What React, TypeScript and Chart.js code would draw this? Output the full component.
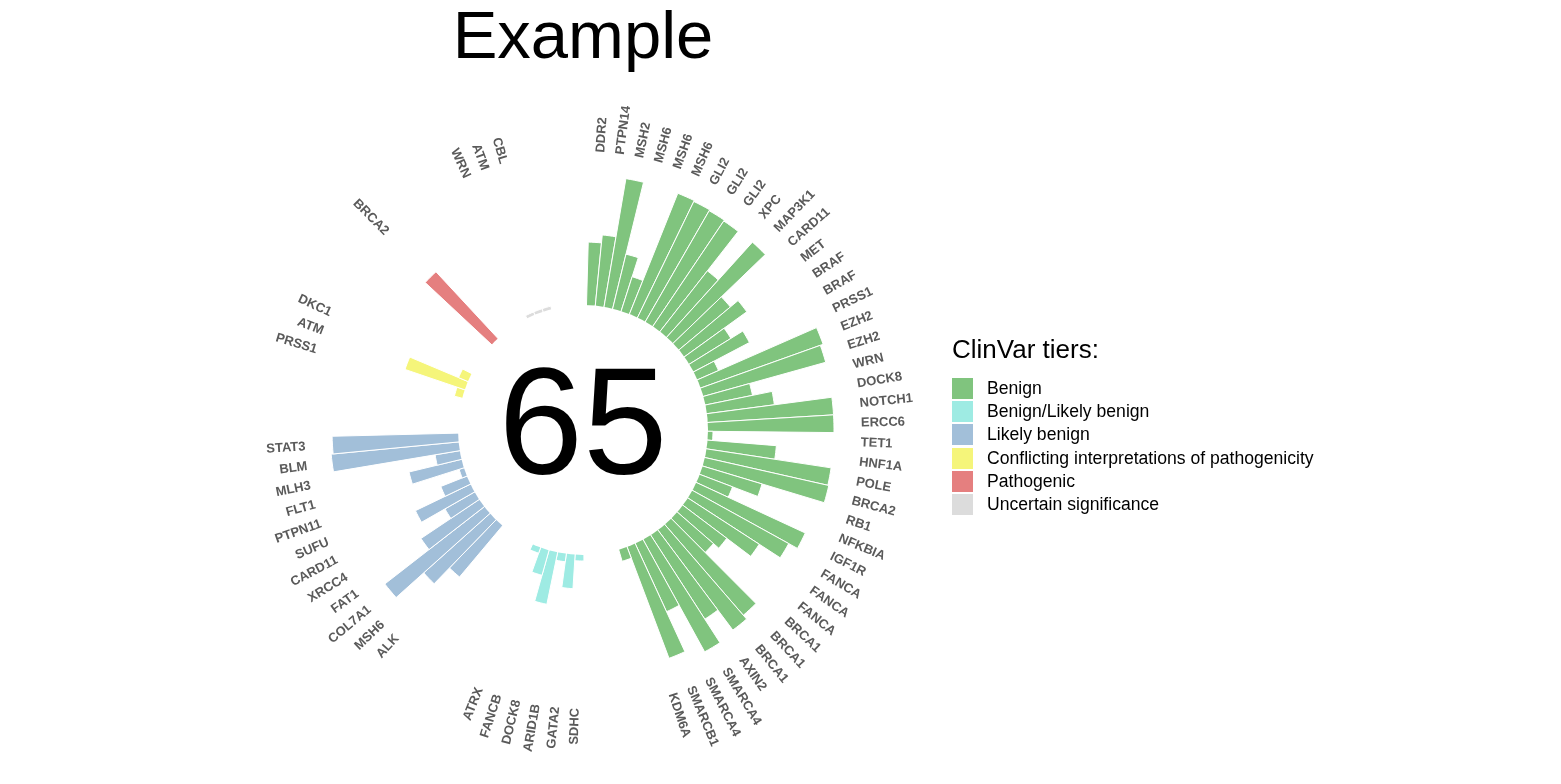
import { Chart, registerables, type Plugin } from "chart.js";
import { useEffect, useRef } from "react";

Chart.register(...registerables);

// bar heights per group, clockwise from the top
const benignGenes = ["DDR2", "PTPN14", "MSH2", "MSH6", "MSH6", "MSH6", "GLI2", "GLI2", "GLI2", "XPC", "MAP3K1", "CARD11", "MET", "BRAF", "BRAF", "PRSS1", "EZH2", "EZH2", "WRN", "DOCK8", "NOTCH1", "ERCC6", "TET1", "HNF1A", "POLE", "BRCA2", "RB1", "NFKBIA", "IGF1R", "FANCA", "FANCA", "FANCA", "BRCA1", "BRCA1", "BRCA1", "AXIN2", "SMARCA4", "SMARCA4", "SMARCB1", "KDM6A"];
const benignValues = [63, 71, 130, 56, 36, 130, 129, 128, 127, 77, 128, 67, 77, 49, 63, 23, 130, 127, 48, 68, 126, 126, 5, 69, 126, 127, 62, 35, 120, 110, 85, 55, 48, 120, 125, 100, 128, 75, 119, 12];
const benignLikelyGenes = ["SDHC", "GATA2", "ARID1B", "DOCK8", "FANCB", "ATRX"];
const benignLikelyValues = [6, 34, 8, 53, 26, 6];
const likelyBenignGenes = ["ALK", "MSH6", "COL7A1", "FAT1", "XRCC4", "CARD11", "SUFU", "PTPN11", "FLT1", "MLH3", "BLM", "STAT3"];
const likelyBenignValues = [67, 89, 126, 70, 34, 61, 28, 5, 54, 25, 128, 126];
const conflictingGenes = ["PRSS1", "ATM", "DKC1"];
const conflictingValues = [8, 63, 10];
const pathogenicGenes = ["BRCA2"];
const pathogenicValues = [91];
const uncertainGenes = ["WRN", "ATM", "CBL"];
const uncertainValues = [3, 3, 3];

const tierNames = ["Benign", "Benign/Likely benign", "Likely benign", "Conflicting interpretations of pathogenicity", "Pathogenic", "Uncertain significance"];
const tierColors = ["#80c47e", "#9eebe3", "#a2bfd9", "#f5f57a", "#e57f7f", "#dcdcdc"];

const EMPTY_BARS = 4;
const SCALE_MIN = -125;
const SCALE_MAX = 255;
const HOLE = 125;
const LABEL_R = 278;
const FONT = "'Liberation Sans', Arial, sans-serif";

const groups = [
  [benignGenes, benignValues],
  [benignLikelyGenes, benignLikelyValues],
  [likelyBenignGenes, likelyBenignValues],
  [conflictingGenes, conflictingValues],
  [pathogenicGenes, pathogenicValues],
  [uncertainGenes, uncertainValues],
] as const;

const labels: string[] = [];
const values: number[] = [];
const colors: string[] = [];
groups.forEach(([genes, vals], g) => {
  genes.forEach((name, i) => {
    labels.push(name);
    values.push(vals[i]);
    colors.push(tierColors[g]);
  });
  for (let k = 0; k < EMPTY_BARS; k++) {
    labels.push("");
    values.push(SCALE_MIN);
    colors.push("rgba(0,0,0,0)");
  }
});
const total = groups.reduce((s, [genes]) => s + genes.length, 0);

const decorPlugin: Plugin<"polarArea"> = {
  id: "decor",
  afterDatasetsDraw(chart) {
    const ctx = chart.ctx;
    const meta = chart.getDatasetMeta(0);
    const scale = chart.scales.r as any;
    const cx = scale.xCenter;
    const cy = scale.yCenter;

    // hole in the middle
    ctx.save();
    ctx.fillStyle = "#ffffff";
    ctx.beginPath();
    ctx.arc(cx, cy, HOLE, 0, Math.PI * 2);
    ctx.fill();

    ctx.fillStyle = "#000";
    ctx.font = `152px ${FONT}`;
    ctx.textAlign = "center";
    ctx.textBaseline = "middle";
    ctx.fillText(String(total), cx, cy + 2);

    // gene labels
    ctx.font = `bold 13px ${FONT}`;
    ctx.fillStyle = "#5a5a5a";
    meta.data.forEach((el: any, i) => {
      if (!labels[i]) return;
      const a = (el.startAngle + el.endAngle) / 2;
      const x = cx + Math.cos(a) * LABEL_R;
      const y = cy + Math.sin(a) * LABEL_R;
      ctx.save();
      ctx.translate(x, y);
      let deg = (a * 180) / Math.PI + 90; // clockwise from top
      deg = ((deg % 360) + 360) % 360;
      if (deg < 180) {
        ctx.rotate(a);
        ctx.textAlign = "left";
      } else {
        ctx.rotate(a + Math.PI);
        ctx.textAlign = "right";
      }
      ctx.textBaseline = "middle";
      ctx.fillText(labels[i], 0, 0);
      ctx.restore();
    });
    ctx.restore();
  },
};

const App = () => {
  const canvasRef = useRef<HTMLCanvasElement | null>(null);
  const chartRef = useRef<Chart | null>(null);

  useEffect(() => {
    document.body.style.margin = "0";
    if (!canvasRef.current) return;
    if (chartRef.current) chartRef.current.destroy();

    chartRef.current = new Chart(canvasRef.current, {
      type: "polarArea",
      data: {
        labels,
        datasets: [
          {
            data: values,
            backgroundColor: colors,
            borderColor: "#ffffff",
            borderWidth: 1,
          },
        ],
      },
      options: {
        responsive: false,
        animation: false,
        layout: { padding: 0 },
        scales: {
          r: {
            min: SCALE_MIN,
            max: SCALE_MAX,
            startAngle: 1.6,
            ticks: { display: false },
            grid: { display: false },
            angleLines: { display: false },
            pointLabels: { display: false },
          },
        },
        plugins: {
          legend: { display: false },
          tooltip: { enabled: false },
        },
      },
      plugins: [decorPlugin],
    });

    return () => {
      if (chartRef.current) chartRef.current.destroy();
    };
  }, []);

  return (
    <div style={{ position: "relative", width: 1561, height: 784, fontFamily: FONT, background: "#fff" }}>
      <div style={{ position: "absolute", left: 283, width: 600, top: 1, textAlign: "center", fontSize: 67, lineHeight: "67px" }}>
        Example
      </div>
      <div style={{ position: "absolute", left: 203, top: 50, width: 760, height: 760 }}>
        <canvas ref={canvasRef} width={760} height={760} />
      </div>
      <div style={{ position: "absolute", left: 952, top: 336 }}>
        <div style={{ fontSize: 26, lineHeight: "26px", marginBottom: 15 }}>ClinVar tiers:</div>
        {tierNames.map((name, i) => (
          <div key={name} style={{ display: "flex", alignItems: "center", height: 23.2 }}>
            <div style={{ width: 21, height: 21, background: tierColors[i], marginRight: 14 }} />
            <span style={{ fontSize: 17.6 }}>{name}</span>
          </div>
        ))}
      </div>
    </div>
  );
};

export default App;
